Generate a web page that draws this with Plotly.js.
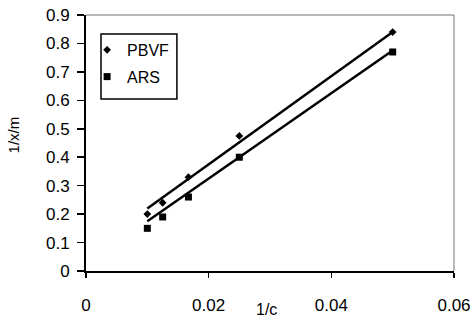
<!DOCTYPE html>
<html>
<head>
<meta charset="utf-8">
<script src="https://cdn.plot.ly/plotly-3.0.1.min.js"></script>
<style>html,body{margin:0;padding:0;background:#fff}#chart{width:476px;height:320px}</style>
</head>
<body>
<div id="chart"></div>
<script>
// Data
var invC = [0.01, 0.0125, 0.0167, 0.025, 0.05];
var pbvf = [0.20, 0.24, 0.33, 0.475, 0.84];
var ars = [0.15, 0.19, 0.26, 0.40, 0.77];
// Linear trendlines (end values)
var fitX = [0.01, 0.05];
var pbvfFit = [0.22, 0.84];
var arsFit = [0.175, 0.775];
var xTicks = [0, 0.02, 0.04, 0.06];
var xTickText = ['0', '0.02', '0.04', '0.06'];
var yTicks = [0, 0.1, 0.2, 0.3, 0.4, 0.5, 0.6, 0.7, 0.8, 0.9];
var yTickText = ['0', '0.1', '0.2', '0.3', '0.4', '0.5', '0.6', '0.7', '0.8', '0.9'];

var F = 'Liberation Sans, Arial, sans-serif';
var traces = [
  {x: fitX, y: pbvfFit, mode: 'lines', line: {color: '#000', width: 2.5}, showlegend: false, hoverinfo: 'skip'},
  {x: fitX, y: arsFit, mode: 'lines', line: {color: '#000', width: 2.5}, showlegend: false, hoverinfo: 'skip'},
  {x: invC, y: pbvf, mode: 'markers', name: 'PBVF', legendgroup: 'a',
   marker: {symbol: 'diamond', size: 6, color: '#000'}},
  {x: invC, y: ars, mode: 'markers', name: 'ARS', legendgroup: 'b',
   marker: {symbol: 'square', size: 7, color: '#000'}}
];

var layout = {
  width: 476, height: 320,
  margin: {l: 86, r: 22, t: 15, b: 49},
  paper_bgcolor: '#fff', plot_bgcolor: '#fff',
  font: {family: F, size: 16, color: '#000'},
  showlegend: true,
  legend: {x: 0.003, y: 0.93, xanchor: 'left', yanchor: 'top', bgcolor: 'rgba(0,0,0,0)',
           borderwidth: 0, font: {family: F, size: 16, color: '#000'},
           traceorder: 'grouped', tracegroupgap: 3},
  xaxis: {range: [0, 0.06], tickvals: xTicks, ticktext: xTickText, ticks: 'outside', ticklen: 5,
          tickwidth: 1.5, tickcolor: '#000', showline: true, linecolor: '#000', linewidth: 2,
          showgrid: false, zeroline: false, ticklabelstandoff: 13, tickfont: {size: 17}},
  yaxis: {range: [0, 0.9], tickvals: yTicks, ticktext: yTickText, ticks: 'outside', ticklen: 7,
          tickwidth: 1.5, tickcolor: '#000', showline: true, linecolor: '#000', linewidth: 2,
          showgrid: false, zeroline: false, ticklabelstandoff: 4, tickfont: {size: 17}},
  shapes: [
    {type: 'line', xref: 'paper', yref: 'paper', x0: 0, x1: 1, y0: 1, y1: 1, line: {color: '#a0a0a0', width: 1.5}},
    {type: 'line', xref: 'paper', yref: 'paper', x0: 1, x1: 1, y0: 0, y1: 1, line: {color: '#a0a0a0', width: 1.5}},
    {type: 'rect', xref: 'paper', yref: 'paper', x0: 0.0408, x1: 0.247, y0: 0.672, y1: 0.926,
     line: {color: '#000', width: 1.5}, fillcolor: 'rgba(0,0,0,0)'}
  ],
  annotations: [
    {text: '1/c', xref: 'paper', yref: 'paper', x: 0.49, y: -0.152, xanchor: 'center', yanchor: 'middle',
     showarrow: false, font: {family: F, size: 16, color: '#000'}},
    {text: '1/x/m', xref: 'paper', yref: 'paper', x: -0.198, y: 0.53, xanchor: 'center', yanchor: 'middle',
     textangle: -90, showarrow: false, font: {family: F, size: 15, color: '#000'}}
  ]
};
Plotly.newPlot('chart', traces, layout, {staticPlot: true, displayModeBar: false});
</script>
</body>
</html>
